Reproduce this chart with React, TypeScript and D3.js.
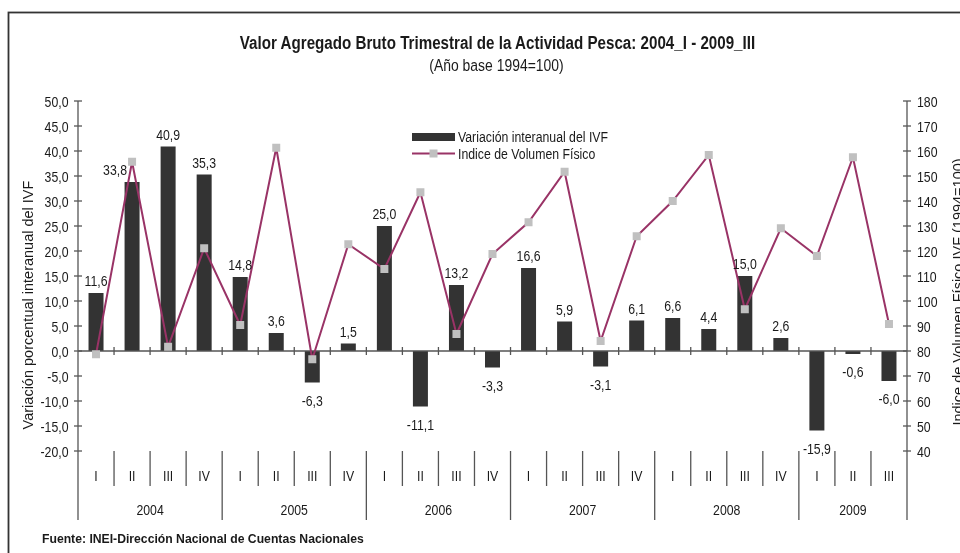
import React from "react";
import * as d3 from "d3";

const years = ["2004", "2005", "2006", "2007", "2008", "2009"];
const quarters = ["I", "II", "III", "IV"];
const periods = [
  "2004-I", "2004-II", "2004-III", "2004-IV",
  "2005-I", "2005-II", "2005-III", "2005-IV",
  "2006-I", "2006-II", "2006-III", "2006-IV",
  "2007-I", "2007-II", "2007-III", "2007-IV",
  "2008-I", "2008-II", "2008-III", "2008-IV",
  "2009-I", "2009-II", "2009-III",
];
const variacion = [
  11.6, 33.8, 40.9, 35.3,
  14.8, 3.6, -6.3, 1.5,
  25.0, -11.1, 13.2, -3.3,
  16.6, 5.9, -3.1, 6.1,
  6.6, 4.4, 15.0, 2.6,
  -15.9, -0.6, -6.0,
];
const indice = [
  78.7, 155.7, 81.7, 121.1,
  90.4, 161.3, 76.7, 122.7,
  112.8, 143.5, 86.8, 118.8,
  131.5, 151.7, 84.0, 125.9,
  140.0, 158.4, 96.7, 129.1,
  118.0, 157.5, 90.8,
];
const leftTicks = [50, 45, 40, 35, 30, 25, 20, 15, 10, 5, 0, -5, -10, -15, -20];
const rightTicks = [180, 170, 160, 150, 140, 130, 120, 110, 100, 90, 80, 70, 60, 50, 40];

const FONT = "'Liberation Sans', Arial, sans-serif";
const BAR = "#333333";
const LINE = "#993366";
const MARK = "#C0C0C0";
const AXIS = "#555555";
const TXT = "#1a1a1a";
const NARROW = 0.82;

const fmt = (v: number) => v.toFixed(1).replace(".", ",");

function NText(props: {
  x: number; y: number; size: number; anchor?: string; weight?: string; children: React.ReactNode;
}) {
  const { x, y, size, anchor = "start", weight = "normal", children } = props;
  return (
    <text transform={`translate(${x},${y}) scale(${NARROW},1)`} textAnchor={anchor as any}
      fontSize={size} fontWeight={weight} fill={TXT}>
      {children}
    </text>
  );
}

export default function App() {
  const x0 = 78, x1 = 907, yTop = 101, yBot = 451;
  const x = d3.scaleBand<number>().domain(d3.range(periods.length)).range([x0, x1]).padding(0);
  const yL = d3.scaleLinear().domain([-20, 50]).range([yBot, yTop]);
  const yR = d3.scaleLinear().domain([40, 180]).range([yBot, yTop]);
  const bw = 15;
  const cx = (i: number) => (x(i) as number) + x.bandwidth() / 2;
  const line = d3.line<number>().x((_, i) => cx(i)).y((d) => yR(d));
  const zeroY = yL(0);
  const boundaries = d3.range(periods.length + 1).map((i) => x0 + i * x.bandwidth());
  const yearStarts = [0, 4, 8, 12, 16, 20, 23];

  return (
    <svg width={960} height={553}
      style={{ position: "absolute", left: 0, top: 0, background: "#fff", willChange: "transform" }}
      fontFamily={FONT}>
      <rect x={0} y={0} width={960} height={553} fill="#fff" />
      <rect x={8.5} y={12.5} width={1000} height={600} fill="none" stroke="#333" strokeWidth={1.8} />

      <NText x={497.5} y={49.3} size={18.5} anchor="middle" weight="bold">
        Valor Agregado Bruto Trimestral de la Actividad Pesca: 2004_I - 2009_III
      </NText>
      <NText x={496.5} y={70.7} size={17} anchor="middle">
        (Año base 1994=100)
      </NText>

      {/* bars */}
      {variacion.map((v, i) => (
        <rect key={"b" + i} x={cx(i) - bw / 2} y={Math.min(yL(v), zeroY)} width={bw}
          height={Math.abs(yL(v) - zeroY)} fill={BAR} />
      ))}

      {/* zero line */}
      <line x1={x0} x2={x1} y1={zeroY} y2={zeroY} stroke={AXIS} strokeWidth={1.3} />
      {boundaries.slice(1, -1).map((bx, i) => (
        <line key={"zt" + i} x1={bx} x2={bx} y1={zeroY - 4} y2={zeroY + 4} stroke={AXIS} strokeWidth={1.3} />
      ))}

      {/* line series */}
      <path d={line(indice) || ""} fill="none" stroke={LINE} strokeWidth={2} />
      {indice.map((v, i) => (
        <rect key={"m" + i} x={cx(i) - 4} y={yR(v) - 4} width={8} height={8} fill={MARK} />
      ))}

      {/* data labels */}
      {variacion.map((v, i) => {
        const yb = yL(v);
        const ly = v >= 0 ? yb - 7 : yb + 23;
        let lx = cx(i);
        const centre = ly - 5;
        if (Math.abs(yR(indice[i]) - centre) < 12) lx -= 17;
        return (
          <NText key={"l" + i} x={lx} y={ly} size={15} anchor="middle">{fmt(v)}</NText>
        );
      })}

      {/* left axis */}
      <line x1={x0} x2={x0} y1={yTop} y2={520} stroke={AXIS} strokeWidth={1.3} />
      {leftTicks.map((t) => (
        <g key={"lt" + t}>
          <line x1={x0 - 4} x2={x0 + 4} y1={yL(t)} y2={yL(t)} stroke={AXIS} strokeWidth={1.3} />
          <NText x={68.5} y={yL(t) + 5.5} size={15} anchor="end">{fmt(t)}</NText>
        </g>
      ))}
      <text transform={`translate(33,305) rotate(-90)`} textAnchor="middle" fontSize={14.5} fill={TXT}>
        Variación porcentual interanual del IVF
      </text>

      {/* right axis */}
      <line x1={x1} x2={x1} y1={yTop} y2={520} stroke={AXIS} strokeWidth={1.3} />
      {rightTicks.map((t) => (
        <g key={"rt" + t}>
          <line x1={x1 - 4} x2={x1 + 4} y1={yR(t)} y2={yR(t)} stroke={AXIS} strokeWidth={1.3} />
          <NText x={917} y={yR(t) + 5.5} size={15}>{t}</NText>
        </g>
      ))}
      <text transform={`translate(963,292) rotate(-90)`} textAnchor="middle" fontSize={14.5} fill={TXT}>
        Indice de Volumen Físico IVF (1994=100)
      </text>

      {/* category axis */}
      {boundaries.map((bx, i) => {
        const isYear = yearStarts.includes(i);
        if (i === 0 || i === periods.length) return null;
        return (
          <line key={"cb" + i} x1={bx} x2={bx} y1={yBot} y2={isYear ? 520 : 486} stroke={AXIS} strokeWidth={1.3} />
        );
      })}
      {periods.map((p, i) => (
        <NText key={"q" + i} x={cx(i)} y={480.5} size={15} anchor="middle">
          {quarters[i % 4]}
        </NText>
      ))}
      {years.map((yr, k) => {
        const a = yearStarts[k], b = yearStarts[k + 1];
        const mx = (boundaries[a] + boundaries[b]) / 2;
        return (
          <NText key={"y" + yr} x={mx} y={515} size={15} anchor="middle">{yr}</NText>
        );
      })}

      {/* legend */}
      <rect x={412} y={133} width={43} height={8} fill={BAR} />
      <NText x={458} y={141.7} size={15}>Variación interanual del IVF</NText>
      <line x1={412} x2={455} y1={153.5} y2={153.5} stroke={LINE} strokeWidth={2} />
      <rect x={429.5} y={149.5} width={8} height={8} fill={MARK} />
      <NText x={458} y={158.5} size={15}>Indice de Volumen Físico</NText>

      <text x={42} y={542.5} fontSize={12.2} fontWeight="bold" fill={TXT}>
        Fuente: INEI-Dirección Nacional de Cuentas  Nacionales
      </text>
    </svg>
  );
}
